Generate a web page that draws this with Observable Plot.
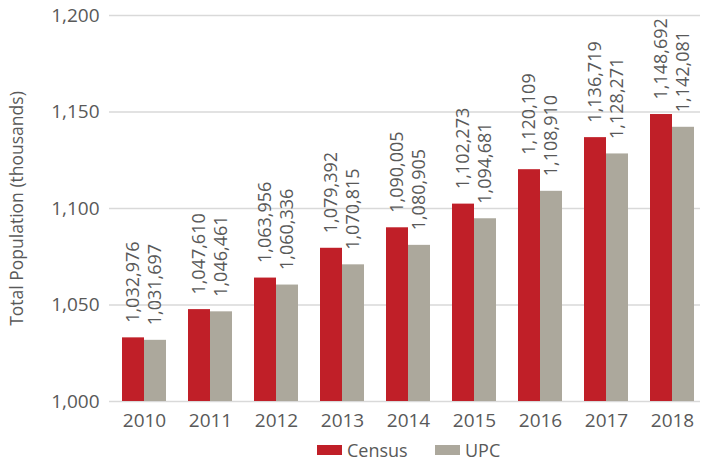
<!DOCTYPE html>
<html>
<head>
<meta charset="utf-8">
<script src="https://cdn.jsdelivr.net/npm/d3@7"></script>
<script src="https://cdn.jsdelivr.net/npm/@observablehq/plot@0.6"></script>
<style>
  html, body { margin: 0; padding: 0; background: #fff; }
  body { width: 701px; height: 462px; overflow: hidden; font-family: "Open Sans", sans-serif; }
  #legend { position: relative; height: 25px; font-size: 18px; color: #595959; }
  .item { position: absolute; top: 0; display: flex; align-items: center; height: 25px; }
  .sw { width: 25px; height: 10px; margin-right: 5px; }
</style>
</head>
<body>
<div id="chart"></div>
<div id="legend"></div>
<script>
const years = ["2010","2011","2012","2013","2014","2015","2016","2017","2018"];
const census = [1032976, 1047610, 1063956, 1079392, 1090005, 1102273, 1120109, 1136719, 1148692];
const upc = [1031697, 1046461, 1060336, 1070815, 1080905, 1094681, 1108910, 1128271, 1142081];
const seriesNames = ["Census", "UPC"];
const seriesColors = ["#C01F28", "#ACA89C"];
const yTicks = [1000, 1050, 1100, 1150, 1200];

const rows = [];
years.forEach((y, i) => {
  rows.push({year: y, series: "Census", value: census[i] / 1000, raw: census[i]});
  rows.push({year: y, series: "UPC", value: upc[i] / 1000, raw: upc[i]});
});
const fmt = d3.format(",");
const textColor = "#595959";

const chart = Plot.plot({
  width: 701,
  height: 437,
  marginTop: 15,
  marginBottom: 36,
  marginLeft: 109,
  marginRight: 1,
  style: {fontFamily: "Open Sans, sans-serif", color: textColor, background: "white"},
  x: {type: "band", domain: years, range: [107.65, 707.85], paddingInner: 0.34, paddingOuter: 0.17, label: null},
  y: {domain: [1000, 1200], label: null},
  color: {domain: seriesNames, range: seriesColors},
  marks: [
    Plot.ruleY(yTicks, {stroke: "#d9d9d9", strokeWidth: 1.6}),
    Plot.barY(rows.filter(d => d.series === "Census"), {x: "year", y1: 1000, y2: "value", fill: "series", insetRight: 22}),
    Plot.barY(rows.filter(d => d.series === "UPC"), {x: "year", y1: 1000, y2: "value", fill: "series", insetLeft: 22}),
    Plot.text(rows.filter(d => d.series === "Census"), {x: "year", y: "value", text: d => fmt(d.raw), rotate: -90, textAnchor: "start", lineAnchor: "middle", dx: -11, dy: -15, fontSize: 18, fill: textColor}),
    Plot.text(rows.filter(d => d.series === "UPC"), {x: "year", y: "value", text: d => fmt(d.raw), rotate: -90, textAnchor: "start", lineAnchor: "middle", dx: 11, dy: -15, fontSize: 18, fill: textColor}),
    Plot.axisX({tickSize: 0, tickPadding: 12, fontSize: 19, label: null, fill: textColor}),
    Plot.axisY({ticks: yTicks, tickSize: 0, tickPadding: 10, fontSize: 19, tickFormat: d3.format(","), label: null, fill: textColor}),
    Plot.text(["Total Population (thousands)"], {frameAnchor: "left", dx: -92, rotate: -90, fontSize: 17.5, fill: textColor, textAnchor: "middle", lineAnchor: "middle"})
  ]
});
document.getElementById("chart").appendChild(chart);

const legend = document.getElementById("legend");
const positions = [317, 435];
seriesNames.forEach((name, i) => {
  const item = document.createElement("div");
  item.className = "item";
  item.style.left = positions[i] + "px";
  const sw = document.createElement("div");
  sw.className = "sw";
  sw.style.background = seriesColors[i];
  const label = document.createElement("span");
  label.textContent = name;
  item.appendChild(sw);
  item.appendChild(label);
  legend.appendChild(item);
});
</script>
</body>
</html>
